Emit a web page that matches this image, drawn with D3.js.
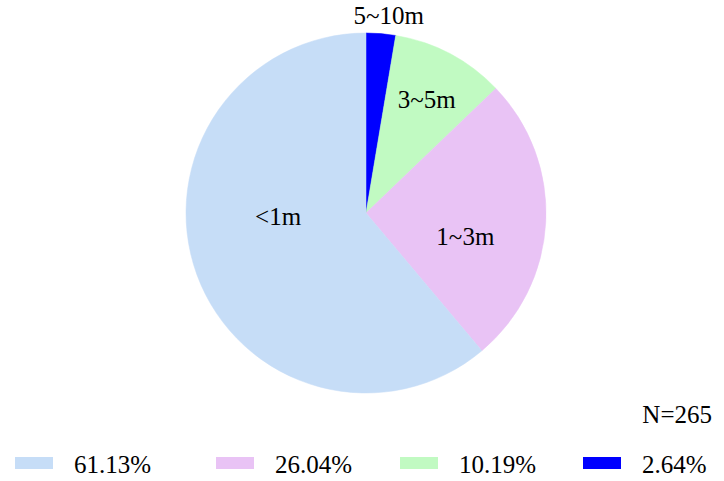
<!DOCTYPE html>
<html>
<head>
<meta charset="utf-8">
<script src="https://cdn.jsdelivr.net/npm/d3@7"></script>
<style>
  html, body { margin: 0; padding: 0; background: #fff; }
  svg { display: block; }
</style>
</head>
<body>
<svg id="chart" width="724" height="481"></svg>
<script>
// ---- data ----
const categories = ["5~10m", "3~5m", "1~3m", "<1m"];
const percents = [2.64, 10.19, 26.04, 61.13];
const legendOrder = ["<1m", "1~3m", "3~5m", "5~10m"];
const sampleLabel = "N=265";

// ---- style / layout ----
const colors = { "5~10m": "#0000FF", "3~5m": "#C1FAC2", "1~3m": "#E9C3F5", "<1m": "#C6DDF7" };
const fontFamily = "'Liberation Serif', 'Times New Roman', serif";
const cx = 366, cy = 213, R = 180;
const fontSize = 25;
// label placement: radius and angular offset (degrees) relative to slice mid angle
const labelPlace = {
  "5~10m": { r: 199, dA: 1.8 },
  "3~5m":  { r: 129, dA: 0.2 },
  "1~3m":  { r: 102, dA: 10 },
  "<1m":   { r: 88,  dA: 18 }
};
const legendX = [15, 216, 400, 583];
const legendY = 457, swW = 38, swH = 12, legendTextGap = 21;

const svg = d3.select("#chart");
const g = svg.append("g").attr("transform", `translate(${cx},${cy})`);

const data = categories.map((c, i) => ({ cat: c, value: percents[i] }));
const pie = d3.pie().sort(null).value(d => d.value);
const arcs = pie(data);
const arc = d3.arc().innerRadius(0).outerRadius(R);

g.selectAll("path.slice").data(arcs).enter().append("path")
  .attr("class", "slice")
  .attr("d", arc)
  .attr("fill", d => colors[d.data.cat])
  .attr("stroke", d => colors[d.data.cat])
  .attr("stroke-width", 0.5);

g.selectAll("text.lbl").data(arcs).enter().append("text")
  .attr("class", "lbl")
  .attr("text-anchor", "middle")
  .attr("dominant-baseline", "central")
  .style("font-family", fontFamily)
  .style("font-size", fontSize + "px")
  .attr("x", d => {
    const p = labelPlace[d.data.cat];
    const a = (d.startAngle + d.endAngle) / 2 + p.dA * Math.PI / 180;
    return p.r * Math.sin(a);
  })
  .attr("y", d => {
    const p = labelPlace[d.data.cat];
    const a = (d.startAngle + d.endAngle) / 2 + p.dA * Math.PI / 180;
    return -p.r * Math.cos(a);
  })
  .text(d => d.data.cat);

// sample size
svg.append("text")
  .attr("x", 712).attr("y", 423)
  .attr("text-anchor", "end")
  .style("font-family", fontFamily)
  .style("font-size", fontSize + "px")
  .text(sampleLabel);

// legend
const legendData = legendOrder.map(c => ({ cat: c, value: percents[categories.indexOf(c)] }));
const lg = svg.selectAll("g.leg").data(legendData).enter().append("g")
  .attr("class", "leg")
  .attr("transform", (d, i) => `translate(${legendX[i]},${legendY})`);
lg.append("rect")
  .attr("width", swW).attr("height", swH)
  .attr("fill", d => colors[d.cat]);
lg.append("text")
  .attr("x", swW + legendTextGap)
  .attr("y", 16)
  .style("font-family", fontFamily)
  .style("font-size", fontSize + "px")
  .text(d => d3.format(".2f")(d.value) + "%");
</script>
</body>
</html>
